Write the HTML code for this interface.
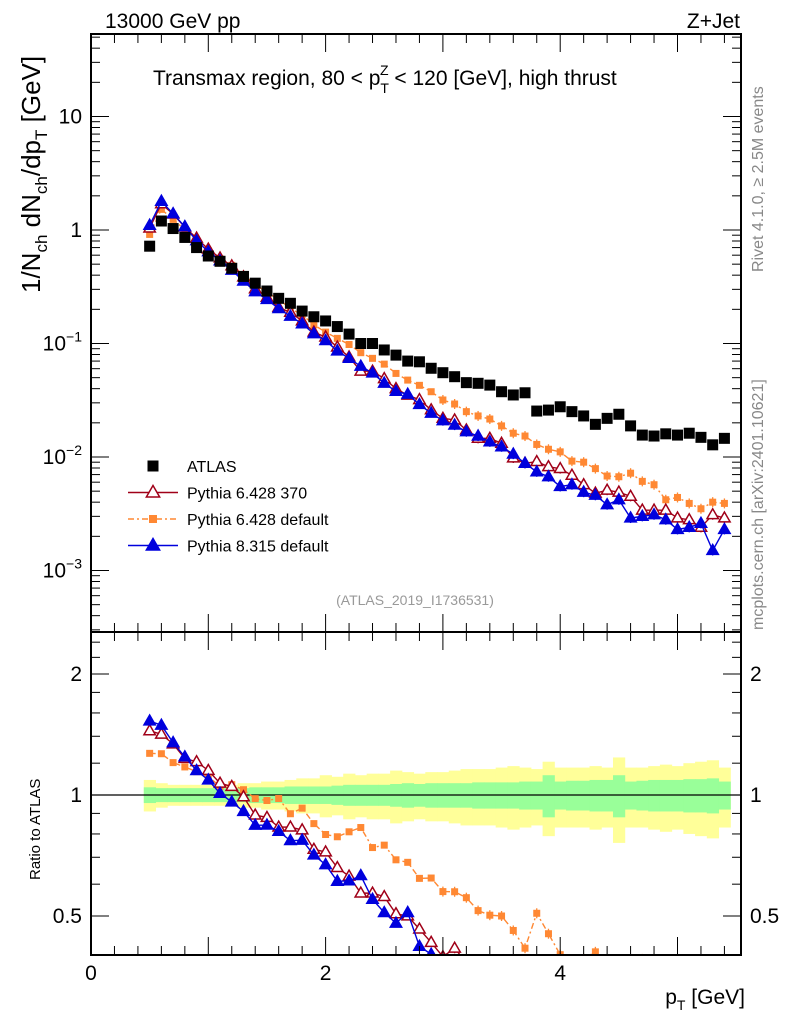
<!DOCTYPE html>
<html><head><meta charset="utf-8"><style>
html,body{margin:0;background:#fff;overflow:hidden;width:786px;height:1024px;}
svg{display:block;font-family:"Liberation Sans",Arial,sans-serif;}
</style></head><body>
<svg id="chart" width="786" height="1024" viewBox="0 0 786 1024" xmlns="http://www.w3.org/2000/svg">
<rect width="786" height="1024" fill="#fff"/>
<g id="ratioBands"></g>
<g id="marks"></g>
<g id="axes"></g>
<text x="105" y="28" font-size="21">13000 GeV pp</text>
<text x="740" y="28" font-size="21" text-anchor="end">Z+Jet</text>
<text x="153" y="85" font-size="21">Transmax region, 80 &lt; p<tspan font-size="14" dy="8">T</tspan><tspan font-size="14" dx="-9" dy="-18">Z</tspan><tspan dy="10"> &lt; 120 [GeV], high thrust</tspan></text>
<text transform="translate(40,293) rotate(-90)" font-size="26">1/N<tspan font-size="17" dy="7">ch</tspan><tspan dy="-7"> dN</tspan><tspan font-size="17" dy="7">ch</tspan><tspan dy="-7">/dp</tspan><tspan font-size="17" dy="7">T</tspan><tspan dy="-7"> [GeV]</tspan></text>
<text transform="translate(40,880) rotate(-90)" font-size="15">Ratio to ATLAS</text>
<text x="745" y="1004" font-size="21" text-anchor="end">p<tspan font-size="14" dy="6">T</tspan><tspan dy="-6"> [GeV]</tspan></text>
<text transform="translate(763,272) rotate(-90)" font-size="16" fill="#888">Rivet 4.1.0, ≥ 2.5M events</text>
<text transform="translate(763,630) rotate(-90)" font-size="16" fill="#888">mcplots.cern.ch [arXiv:2401.10621]</text>
<text x="415" y="605" font-size="14" fill="#999" text-anchor="middle">(ATLAS_2019_I1736531)</text>
<g id="legend"></g>
</svg>
<script>
const xCenters = [0.5,0.6,0.7,0.8,0.9,1.0,1.1,1.2,1.3,1.4,1.5,1.6,1.7,1.8,1.9,2.0,2.1,2.2,2.3,2.4,2.5,2.6,2.7,2.8,2.9,3.0,3.1,3.2,3.3,3.4,3.5,3.6,3.7,3.8,3.9,4.0,4.1,4.2,4.3,4.4,4.5,4.6,4.7,4.8,4.9,5.0,5.1,5.2,5.3,5.4];
const atlas = [0.72,1.2,1.03,0.86,0.70,0.59,0.53,0.46,0.39,0.34,0.29,0.25,0.226,0.193,0.172,0.158,0.141,0.121,0.100,0.100,0.0877,0.079,0.070,0.069,0.0605,0.0553,0.051,0.0452,0.0446,0.043,0.0376,0.0352,0.0368,0.0254,0.0259,0.0277,0.0251,0.0230,0.0194,0.0219,0.0238,0.0188,0.0156,0.0153,0.0160,0.0156,0.0162,0.0149,0.0128,0.0146];
const py6_370 = [1.04,1.70,1.38,1.06,0.847,0.679,0.567,0.483,0.386,0.303,0.255,0.208,0.188,0.158,0.126,0.114,0.093,0.076,0.057,0.057,0.049,0.040,0.035,0.032,0.026,0.0219,0.0212,0.0173,0.0146,0.0146,0.0132,0.0098,0.0088,0.0091,0.0082,0.0079,0.0069,0.0057,0.0048,0.0051,0.0049,0.0045,0.0034,0.0034,0.0034,0.0029,0.0028,0.0024,0.0031,0.0029];
const py6_def = [0.914,1.52,1.24,1.01,0.80,0.655,0.557,0.488,0.402,0.333,0.281,0.245,0.203,0.179,0.146,0.126,0.111,0.098,0.083,0.074,0.0658,0.0545,0.0476,0.0428,0.0376,0.0318,0.0293,0.0251,0.0230,0.0216,0.0188,0.0162,0.0153,0.0129,0.0117,0.0111,0.0092,0.0090,0.0079,0.0068,0.0067,0.0072,0.0061,0.0057,0.0042,0.0044,0.0039,0.0035,0.0040,0.0039];
const py8_def = [1.10,1.79,1.39,1.07,0.805,0.643,0.535,0.442,0.355,0.286,0.244,0.203,0.174,0.149,0.122,0.106,0.086,0.074,0.063,0.055,0.0447,0.0379,0.0357,0.029,0.0243,0.0209,0.0191,0.0167,0.0153,0.0136,0.0123,0.0106,0.0088,0.0074,0.0067,0.0055,0.0057,0.0049,0.0046,0.0038,0.0042,0.0029,0.0030,0.0031,0.0028,0.0023,0.0024,0.0026,0.0015,0.0023];
const statErr = [0.045,0.04,0.04,0.04,0.04,0.04,0.04,0.04,0.04,0.045,0.045,0.045,0.05,0.05,0.05,0.05,0.055,0.06,0.06,0.06,0.06,0.065,0.07,0.065,0.07,0.07,0.07,0.07,0.075,0.075,0.075,0.075,0.08,0.08,0.12,0.08,0.085,0.085,0.09,0.09,0.12,0.08,0.085,0.09,0.09,0.09,0.095,0.095,0.1,0.08];
const totErr = [0.09,0.07,0.06,0.06,0.06,0.06,0.06,0.06,0.07,0.07,0.08,0.08,0.09,0.10,0.10,0.12,0.11,0.13,0.12,0.13,0.13,0.15,0.14,0.13,0.14,0.14,0.15,0.16,0.16,0.16,0.17,0.18,0.17,0.16,0.21,0.17,0.17,0.17,0.18,0.17,0.24,0.17,0.17,0.18,0.19,0.18,0.20,0.21,0.22,0.17];
const xTicks = [0,2,4];
const yTickExp = [1,0,-1,-2,-3];
const rTicks = [2,1,0.5];

const NS='http://www.w3.org/2000/svg';
const L=91,R=741,T=34,MB=632,RB=955;
const sx=v=>L+v*117.3;
const sy=v=>230-113.5*Math.log10(v);
const sr=v=>795-121*Math.log2(v);
function mk(tag,attrs,parent){const e=document.createElementNS(NS,tag);for(const k in attrs)e.setAttribute(k,attrs[k]);parent.appendChild(e);return e;}
const axes=document.getElementById('axes'),marks=document.getElementById('marks'),bands=document.getElementById('ratioBands'),legend=document.getElementById('legend');

const defs=mk('defs',{},document.getElementById('chart'));
const c1=mk('clipPath',{id:'cm'},defs);mk('rect',{x:L,y:T,width:R-L,height:MB-T},c1);
const c2=mk('clipPath',{id:'cr'},defs);mk('rect',{x:L,y:MB,width:R-L,height:RB-MB},c2);
const gm=mk('g',{'clip-path':'url(#cm)'},marks);
const gr=mk('g',{'clip-path':'url(#cr)'},marks);

const gb=mk('g',{'clip-path':'url(#cr)'},bands);
xCenters.forEach((x,i)=>{
  const yb=mk('rect',{x:sx(x-0.05),width:117.3*0.1+0.5,y:sr(1+totErr[i]),height:sr(1-totErr[i])-sr(1+totErr[i]),fill:'#ffff99'},gb);
  
  
});
xCenters.forEach((x,i)=>{
  const gbr=mk('rect',{x:sx(x-0.05),width:117.3*0.1+0.5,y:sr(1+statErr[i]),height:sr(1-statErr[i])-sr(1+statErr[i]),fill:'#99ff99'},gb);
  
  
});
mk('line',{x1:L,x2:R,y1:sr(1),y2:sr(1),stroke:'#000','stroke-width':1.3},gb);

function tri(g,x,y,col,fill,s){return mk('path',{d:`M${x},${y-s}L${x+s*0.95},${y+s*0.65}L${x-s*0.95},${y+s*0.65}Z`,fill:fill?col:'#fff',stroke:col,'stroke-width':1.5},g);}
function sq(g,x,y,col,s){return mk('rect',{x:x-s,y:y-s,width:2*s,height:2*s,fill:col},g);}

const series=[
 {vals:py6_def,col:'#ff8833',dash:'6,3,2,3',type:'sq',s:3.5,name:'pythia6-default'},
 {vals:py6_370,col:'#a00018',dash:'',type:'tri',fill:false,s:6,name:'pythia6-370'},
 {vals:py8_def,col:'#0000dd',dash:'',type:'tri',fill:true,s:6,name:'pythia8-default'}
];
series.forEach(S=>{
  [[gm,(v,i)=>sy(v)],[gr,(v,i)=>sr(v/atlas[i])]].forEach(([g,f])=>{
    const pts=S.vals.map((v,i)=>sx(xCenters[i])+','+f(v,i)).join(' ');
    const pl=mk('polyline',{points:pts,fill:'none',stroke:S.col,'stroke-width':1.4,'stroke-dasharray':S.dash},g);
    
    
    S.vals.forEach((v,i)=>{
      const x=sx(xCenters[i]),y=f(v,i);
      if(xCenters[i]>2.9){mk('line',{x1:x,x2:x,y1:y-5,y2:y+5,stroke:S.col,'stroke-width':1.3},g);}
      const m=S.type==='sq'?sq(g,x,y,S.col,S.s):tri(g,x,y,S.col,S.fill,S.s);
      
      
    });
  });
});
atlas.forEach((v,i)=>{
  const m=sq(gm,sx(xCenters[i]),sy(v),'#000',5.5);
  
  
});

mk('rect',{x:L,y:T,width:R-L,height:MB-T,fill:'none',stroke:'#000','stroke-width':2},axes);
mk('rect',{x:L,y:MB,width:R-L,height:RB-MB,fill:'none',stroke:'#000','stroke-width':2},axes);
for(let k=0;k<=29;k++){const v=k*0.2,x=sx(v);if(x>R)break;const big=(k%5===0);const len=big?18:9;
 [T,MB].forEach(y0=>{mk('line',{x1:x,x2:x,y1:y0,y2:y0+len,stroke:'#000','stroke-width':1},axes);});
 [MB,RB].forEach(y0=>{mk('line',{x1:x,x2:x,y1:y0,y2:y0-len,stroke:'#000','stroke-width':1},axes);});
}
xTicks.forEach(v=>{const t=mk('text',{x:sx(v),y:980,'font-size':21,'text-anchor':'middle'},axes);t.textContent=v;
 });
for(let e=-4;e<=1;e++){for(let m=1;m<=9;m++){const v=m*Math.pow(10,e),y=sy(v);if(y<T||y>MB)continue;const len=m===1?18:9;
 mk('line',{x1:L,x2:L+len,y1:y,y2:y,stroke:'#000'},axes);mk('line',{x1:R,x2:R-len,y1:y,y2:y,stroke:'#000'},axes);}}
yTickExp.forEach(e=>{const y=sy(Math.pow(10,e))+7;const t=mk('text',{x:82,y:y,'font-size':21,'text-anchor':'end'},axes);
 if(e===1)t.textContent='10';else if(e===0)t.textContent='1';
 else{t.textContent='10';const ts=mk('tspan',{'font-size':14,dy:-9},t);ts.textContent=String(e).replace('-','−');}
 });
[0.4,0.5,0.6,0.7,0.8,0.9,1,1.2,1.4,1.6,1.8,2,2.2,2.4].forEach(v=>{const y=sr(v);if(y<MB||y>RB)return;const len=(v===0.5||v===1||v===2)?18:9;
 mk('line',{x1:L,x2:L+len,y1:y,y2:y,stroke:'#000'},axes);mk('line',{x1:R,x2:R-len,y1:y,y2:y,stroke:'#000'},axes);});
rTicks.forEach(v=>{[[82,'end'],[750,'start']].forEach(([x,a])=>{const t=mk('text',{x:x,y:sr(v)+7,'font-size':21,'text-anchor':a},axes);t.textContent=v;
 });});

const le=[['ATLAS','atlas'],['Pythia 6.428 370','p370'],['Pythia 6.428 default','pdef'],['Pythia 8.315 default','p8']];
le.forEach((d,i)=>{const y=466+i*26.5;const g=mk('g',{},legend);
 
 
 if(d[1]==='atlas')sq(g,153,y,'#000',5.5);
 else if(d[1]==='p370'){mk('line',{x1:128,x2:178,y1:y,y2:y,stroke:'#a00018','stroke-width':1.4},g);tri(g,153,y,'#a00018',false,7);}
 else if(d[1]==='pdef'){mk('line',{x1:128,x2:178,y1:y,y2:y,stroke:'#ff8833','stroke-width':1.4,'stroke-dasharray':'6,3,2,3'},g);sq(g,153,y,'#ff8833',4);}
 else{mk('line',{x1:128,x2:178,y1:y,y2:y,stroke:'#0000dd','stroke-width':1.4},g);tri(g,153,y,'#0000dd',true,7);}
 const t=mk('text',{x:187,y:y+6,'font-size':16},g);t.textContent=d[0];});
</script>
</body></html>
